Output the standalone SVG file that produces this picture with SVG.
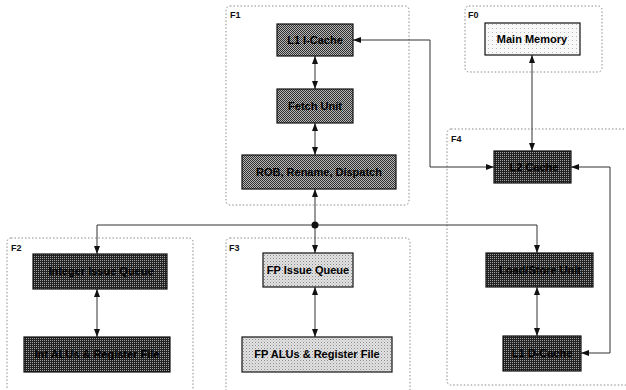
<svg xmlns="http://www.w3.org/2000/svg" width="626" height="390" viewBox="0 0 626 390">
<style>
.region{fill:none;stroke:#8a8a8a;stroke-width:1;stroke-dasharray:1.5 2}
.rlabel{font-family:"Liberation Sans",Arial,sans-serif;font-weight:bold;font-size:9px;fill:#111}
.box{stroke:#111;stroke-width:1.2}
.dark{fill:url(#pdark)}
.mid{fill:url(#pmid)}
.light{fill:url(#plight)}
.mem{fill:url(#pmem)}
.t{font-family:"Liberation Sans",Arial,sans-serif;font-weight:bold;font-size:11px;fill:#000;text-anchor:middle}
.c{fill:none;stroke:#333;stroke-width:1}
</style>
<defs>
<pattern id="pdark" width="2" height="2" patternUnits="userSpaceOnUse"><rect width="2" height="2" fill="#222"/><rect width="1" height="1" fill="#a0a0a0"/></pattern>
<pattern id="pmid" width="2" height="2" patternUnits="userSpaceOnUse"><rect width="2" height="2" fill="#b8b8b8"/><rect width="1" height="1" fill="#2e2e2e"/><rect x="1" y="1" width="1" height="1" fill="#2e2e2e"/></pattern>
<pattern id="plight" width="3" height="3" patternUnits="userSpaceOnUse"><rect width="3" height="3" fill="#e2e2e2"/><rect width="1" height="1" fill="#8a8a8a"/><rect x="1.5" y="1.5" width="1" height="1" fill="#b0b0b0"/></pattern>
<pattern id="pmem" width="4" height="4" patternUnits="userSpaceOnUse"><rect width="4" height="4" fill="#f8f8f8"/><rect width="1" height="1" fill="#b8b8b8"/></pattern>
<marker id="ah" viewBox="0 0 8 6" refX="8" refY="3" markerWidth="8" markerHeight="6" markerUnits="userSpaceOnUse" orient="auto-start-reverse"><path d="M0,0 L8,3 L0,6 z" fill="#111"/></marker>
</defs>

<g id="regions">
<g id="F1"><rect class="region" x="226" y="6" width="183" height="199" rx="4"/><text class="rlabel" x="230" y="18">F1</text></g>
<g id="F0"><rect class="region" x="465" y="6" width="137" height="66" rx="4"/><text class="rlabel" x="468" y="18">F0</text></g>
<g id="F4"><rect class="region" x="447" y="129" width="200" height="256" rx="4"/><text class="rlabel" x="451" y="142">F4</text></g>
<g id="F2"><rect class="region" x="7" y="238" width="186" height="165" rx="4"/><text class="rlabel" x="11" y="251">F2</text></g>
<g id="F3"><rect class="region" x="226" y="238" width="184" height="165" rx="4"/><text class="rlabel" x="229" y="251">F3</text></g>
</g>

<g id="connectors">
<path class="c" d="M353,40 H430 V167 H494" marker-start="url(#ah)" marker-end="url(#ah)"/>
<path class="c" d="M532,55 V151" marker-start="url(#ah)" marker-end="url(#ah)"/>
<path class="c" d="M571,167 H610 V353 H581" marker-start="url(#ah)" marker-end="url(#ah)"/>
<path class="c" d="M315,56 V89" marker-start="url(#ah)" marker-end="url(#ah)"/>
<path class="c" d="M315,123 V155" marker-start="url(#ah)" marker-end="url(#ah)"/>
<path class="c" d="M315,225 V189" marker-end="url(#ah)"/>
<path class="c" d="M97,254 V225 H537 V253" marker-start="url(#ah)" marker-end="url(#ah)"/>
<path class="c" d="M315,225 V253" marker-end="url(#ah)"/>
<path class="c" d="M97,289 V337" marker-start="url(#ah)" marker-end="url(#ah)"/>
<path class="c" d="M315,287 V337" marker-start="url(#ah)" marker-end="url(#ah)"/>
<path class="c" d="M537,287 V336" marker-start="url(#ah)" marker-end="url(#ah)"/>
<circle cx="315" cy="225" r="3.5" fill="#111"/>
</g>

<g id="l1icache"><rect class="box mid" x="277" y="24" width="76" height="32"/><text class="t" x="315" y="44">L1 I-Cache</text></g>
<g id="fetch"><rect class="box mid" x="277" y="89" width="76" height="34"/><text class="t" x="315" y="110">Fetch Unit</text></g>
<g id="rob"><rect class="box mid" x="242" y="155" width="154" height="34"/><text class="t" x="319" y="176">ROB, Rename, Dispatch</text></g>
<g id="mainmem"><rect class="box mem" x="485" y="23" width="95" height="32"/><text class="t" x="532" y="43">Main Memory</text></g>
<g id="l2"><rect class="box dark" x="494" y="151" width="77" height="32"/><text class="t" x="534" y="171">L2 Cache</text></g>
<g id="intiq"><rect class="box dark" x="33" y="254" width="134" height="35"/><text class="t" x="101" y="275">Integer Issue Queue</text></g>
<g id="intalu"><rect class="box dark" x="24" y="337" width="146" height="35"/><text class="t" x="97" y="358">Int ALUs &amp; Register File</text></g>
<g id="fpiq"><rect class="box light" x="263" y="253" width="90" height="34"/><text class="t" x="308" y="274">FP Issue Queue</text></g>
<g id="fpalu"><rect class="box light" x="242" y="337" width="150" height="35"/><text class="t" x="317" y="358">FP ALUs &amp; Register File</text></g>
<g id="lsu"><rect class="box dark" x="486" y="253" width="107" height="34"/><text class="t" x="540" y="274">Load/Store Unit</text></g>
<g id="l1dcache"><rect class="box dark" x="503" y="336" width="78" height="35"/><text class="t" x="542" y="357">L1 D-Cache</text></g>
</svg>
